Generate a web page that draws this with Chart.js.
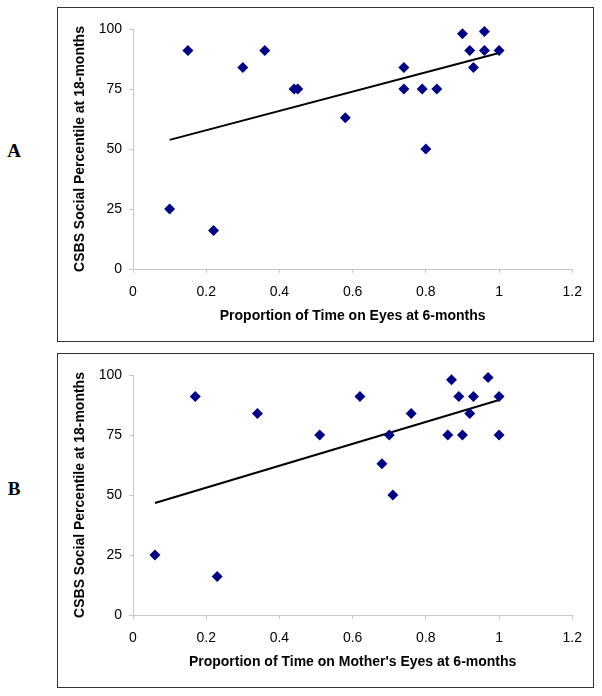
<!DOCTYPE html>
<html>
<head>
<meta charset="utf-8">
<script src="https://cdn.jsdelivr.net/npm/chart.js@4"></script>
<style>
  body { margin: 0; background: #fff; width: 602px; height: 696px; position: relative; }
  .box { position: absolute; left: 57px; width: 537px; height: 335px; border: 1px solid #333; box-sizing: border-box; background: #fff; }
  .tag { position: absolute; left: 4px; width: 20px; text-align: center; font: bold 19px "Liberation Serif", "Times New Roman", serif; color: #000; }
</style>
</head>
<body>
<div class="tag" style="top:140px;">A</div>
<div class="tag" style="top:478px;">B</div>
<div class="box" style="top:7px;"><canvas id="chart-a" width="535" height="333"></canvas></div>
<div class="box" style="top:353px;"><canvas id="chart-b" width="535" height="333"></canvas></div>
<script>
// panel A: proportion of time on eyes vs CSBS social percentile
const eyesX = [0.10, 0.15, 0.22, 0.30, 0.36, 0.44, 0.45, 0.58, 0.74, 0.74, 0.79, 0.80, 0.83, 0.90, 0.92, 0.93, 0.96, 0.96, 1.00];
const eyesY = [25, 91, 16, 84, 91, 75, 75, 63, 84, 75, 75, 50, 75, 98, 91, 84, 99, 91, 91];
const eyesTrendX = [0.10, 1.00];
const eyesTrendY = [53.8, 90];

// panel B: proportion of time on mother's eyes
const motherX = [0.06, 0.17, 0.23, 0.34, 0.51, 0.62, 0.68, 0.70, 0.71, 0.76, 0.86, 0.87, 0.89, 0.90, 0.92, 0.93, 0.97, 1.00, 1.00];
const motherY = [25, 91, 16, 84, 75, 91, 63, 75, 50, 84, 75, 98, 91, 75, 84, 91, 99, 91, 75];
const motherTrendX = [0.06, 1.00];
const motherTrendY = [46.7, 89.6];

const yTitle = "CSBS Social Percentile at 18-months";
const xTicks = [0, 0.2, 0.4, 0.6, 0.8, 1, 1.2];
const yTicks = [0, 25, 50, 75, 100];

const FONT = "'Liberation Sans', Arial, sans-serif";
const axisGrey = "#c8c8c8";

function pts(xs, ys) {
  return xs.map((x, i) => ({ x: x, y: ys[i] }));
}

function makeConfig(xs, ys, tx, ty, xTitle) {
  return {
    type: "scatter",
    data: {
      datasets: [
        {
          data: pts(xs, ys),
          pointStyle: "rectRot",
          pointRadius: 5.5,
          pointBorderWidth: 0,
          backgroundColor: "#000080",
          clip: false,
        },
        {
          type: "line",
          data: pts(tx, ty),
          borderColor: "#000",
          borderWidth: 2,
          pointRadius: 0,
          fill: false,
        },
      ],
    },
    options: {
      responsive: false,
      animation: false,
      events: [],
      layout: { padding: { left: 0, right: 20, top: 21, bottom: 0 } },
      plugins: { legend: { display: false }, tooltip: { enabled: false } },
      scales: {
        x: {
          type: "linear",
          min: 0,
          max: 1.2,
          afterBuildTicks: (s) => { s.ticks = xTicks.map((v) => ({ value: v })); },
          afterFit: (s) => { s.height = 72; },
          ticks: {
            padding: 11,
            color: "#000",
            font: { family: FONT, size: 14 },
            callback: (v) => String(+v.toFixed(1)),
          },
          grid: { drawOnChartArea: false, tickLength: 4, color: axisGrey },
          border: { color: axisGrey },
          title: {
            display: true,
            text: xTitle,
            color: "#000",
            font: { family: FONT, size: 14, weight: "bold" },
            padding: { top: 0, bottom: 16 },
          },
        },
        y: {
          min: 0,
          max: 100,
          afterBuildTicks: (s) => { s.ticks = yTicks.map((v) => ({ value: v })); },
          afterFit: (s) => { s.width = 75; },
          ticks: { padding: 7, color: "#000", font: { family: FONT, size: 14 } },
          grid: { drawOnChartArea: false, tickLength: 4, color: axisGrey },
          border: { color: axisGrey },
          title: {
            display: true,
            text: yTitle,
            color: "#000",
            font: { family: FONT, size: 14, weight: "bold" },
            padding: { top: 14, bottom: 0 },
          },
        },
      },
    },
  };
}

const chartA = new Chart(document.getElementById("chart-a"),
  makeConfig(eyesX, eyesY, eyesTrendX, eyesTrendY, "Proportion of Time on Eyes at 6-months"));
const chartB = new Chart(document.getElementById("chart-b"),
  makeConfig(motherX, motherY, motherTrendX, motherTrendY, "Proportion of Time on Mother's Eyes at 6-months"));
</script>
</body>
</html>
